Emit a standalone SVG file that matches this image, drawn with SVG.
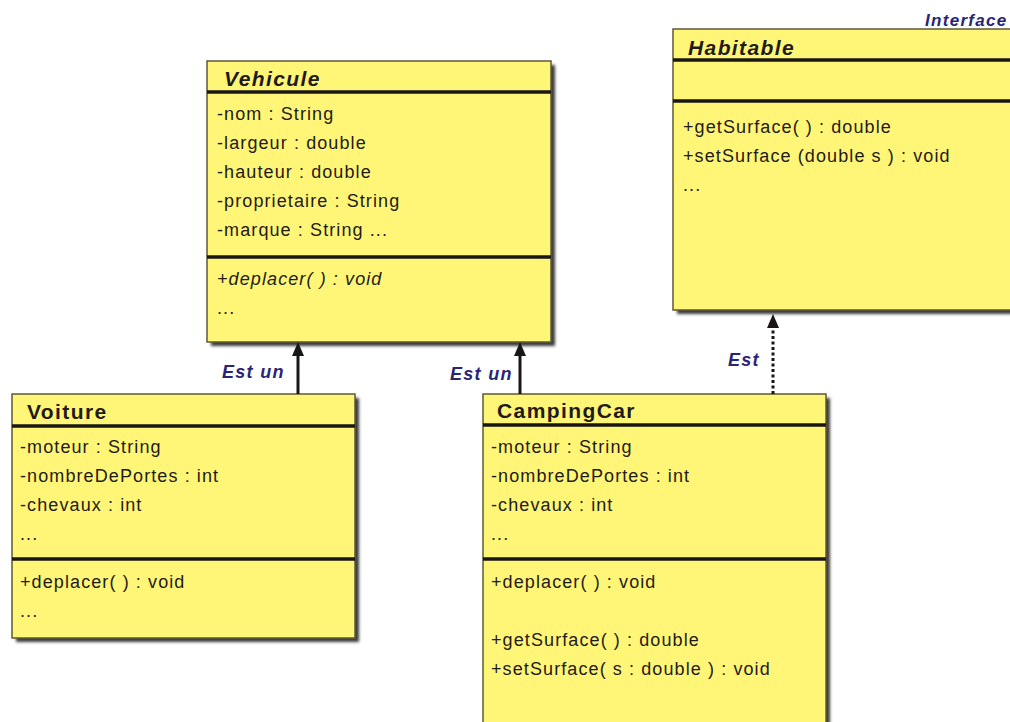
<svg xmlns="http://www.w3.org/2000/svg" width="1010" height="722" viewBox="0 0 1010 722">
<defs>
<filter id="sh" x="-5%" y="-5%" width="115%" height="115%">
<feGaussianBlur stdDeviation="1.6"/>
</filter>
</defs>
<style>
.box{fill:#fff677;stroke:#5d5a36;stroke-width:1.5}
.shd{fill:#3a3a3a;filter:url(#sh)}
.div{stroke:#1a1616;stroke-width:3.5}
.t{font-family:"Liberation Sans",Arial,sans-serif;font-size:18px;letter-spacing:1.1px;fill:#1f1b1b}
.it{font-style:italic}
.title{font-family:"Liberation Sans",Arial,sans-serif;font-size:21px;font-weight:bold;letter-spacing:1.4px;fill:#1f1b1b}
.lbl{font-family:"Liberation Sans",Arial,sans-serif;font-size:18px;font-weight:bold;font-style:italic;letter-spacing:1.3px;fill:#2a2475}
.ln{stroke:#1a1616;stroke-width:3;fill:none}
.ah{fill:#1a1616}
</style>
<rect width="1010" height="722" fill="#ffffff"/>

<g id="vehicule">
<rect class="shd" x="211" y="65" width="344" height="281"/>
<rect class="box" x="207" y="61" width="344" height="281"/>
<line class="div" x1="207" y1="92" x2="551" y2="92"/>
<line class="div" x1="207" y1="257" x2="551" y2="257"/>
<text class="title it" x="224" y="86">Vehicule</text>
<text class="t" x="217" y="120">-nom : String</text>
<text class="t" x="217" y="149">-largeur : double</text>
<text class="t" x="217" y="178">-hauteur : double</text>
<text class="t" x="217" y="207">-proprietaire : String</text>
<text class="t" x="217" y="236">-marque : String ...</text>
<text class="t it" x="217" y="285">+deplacer( ) : void</text>
<text class="t" x="217" y="314">...</text>
</g>

<g id="habitable">
<text class="lbl" x="925" y="26" style="font-size:17px">Interface</text>
<rect class="shd" x="677" y="33" width="340" height="281"/>
<rect class="box" x="673" y="29" width="345" height="281"/>
<line class="div" x1="673" y1="60" x2="1010" y2="60"/>
<line class="div" x1="673" y1="101" x2="1010" y2="101"/>
<text class="title it" x="688" y="55">Habitable</text>
<text class="t" x="683" y="133">+getSurface( ) : double</text>
<text class="t" x="683" y="162">+setSurface (double s ) : void</text>
<text class="t" x="683" y="191">...</text>
</g>

<g id="voiture">
<rect class="shd" x="16" y="398" width="343" height="244"/>
<rect class="box" x="12" y="394" width="343" height="244"/>
<line class="div" x1="12" y1="426" x2="355" y2="426"/>
<line class="div" x1="12" y1="559" x2="355" y2="559"/>
<text class="title" x="27" y="419">Voiture</text>
<text class="t" x="20" y="453">-moteur : String</text>
<text class="t" x="20" y="482">-nombreDePortes : int</text>
<text class="t" x="20" y="511">-chevaux : int</text>
<text class="t" x="20" y="540">...</text>
<text class="t" x="20" y="588">+deplacer( ) : void</text>
<text class="t" x="20" y="617">...</text>
</g>

<g id="campingcar">
<rect class="shd" x="487" y="398" width="343" height="340"/>
<rect class="box" x="483" y="394" width="343" height="340"/>
<line class="div" x1="483" y1="425" x2="826" y2="425"/>
<line class="div" x1="483" y1="559" x2="826" y2="559"/>
<text class="title" x="497" y="418">CampingCar</text>
<text class="t" x="491" y="453">-moteur : String</text>
<text class="t" x="491" y="482">-nombreDePortes : int</text>
<text class="t" x="491" y="511">-chevaux : int</text>
<text class="t" x="491" y="540">...</text>
<text class="t" x="491" y="588">+deplacer( ) : void</text>
<text class="t" x="491" y="646">+getSurface( ) : double</text>
<text class="t" x="491" y="675">+setSurface( s : double ) : void</text>
</g>

<g id="connectors">
<line class="ln" x1="298" y1="394" x2="298" y2="352"/>
<path class="ah" d="M292,356 L298,342 L304,356 Z"/>
<line class="ln" x1="520" y1="394" x2="520" y2="352"/>
<path class="ah" d="M514,356 L520,342 L526,356 Z"/>
<line class="ln" x1="773" y1="394" x2="773" y2="328" stroke-dasharray="3,2.5"/>
<path class="ah" d="M767,328 L773,314 L779,328 Z"/>
<text class="lbl" x="222" y="378">Est un</text>
<text class="lbl" x="450" y="380">Est un</text>
<text class="lbl" x="728" y="366">Est</text>
</g>
</svg>
